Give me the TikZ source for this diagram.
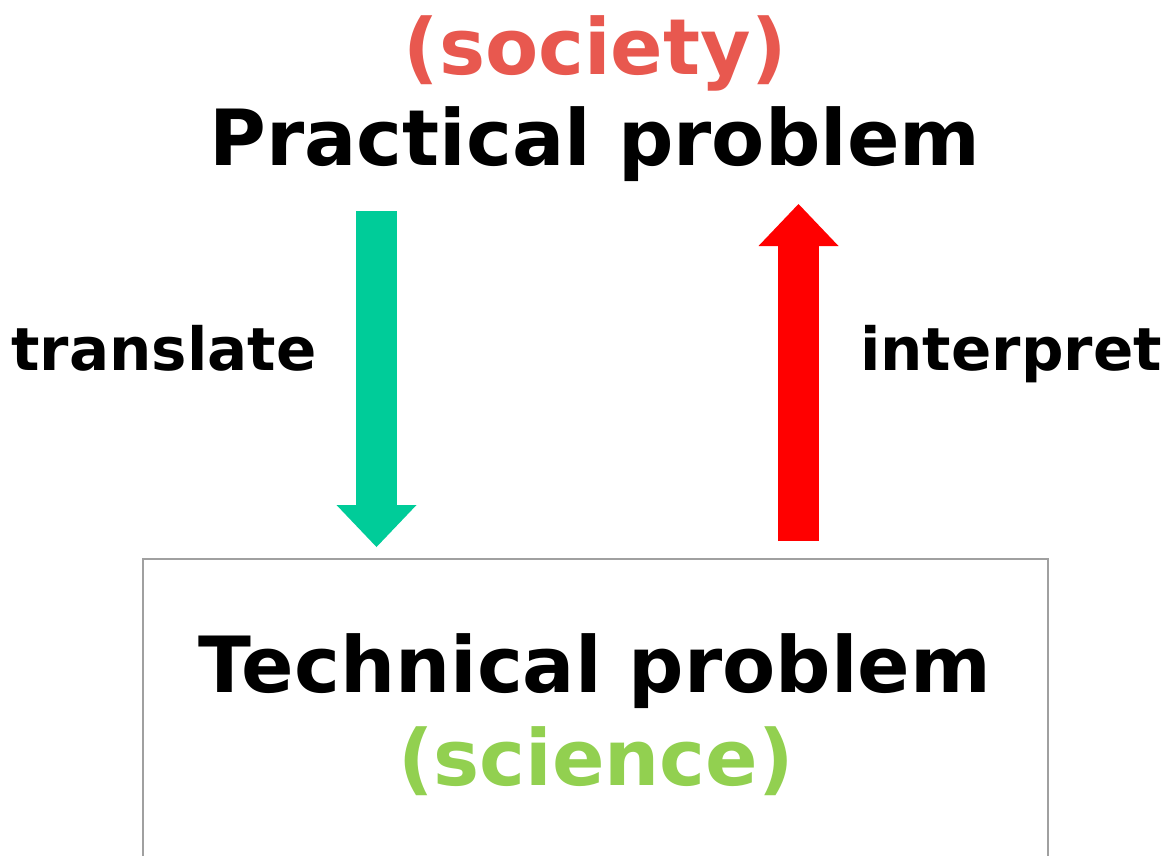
\documentclass[tikz,border=0pt]{standalone}
\usepackage{fontspec}
\setmainfont{DejaVu Sans}
\usetikzlibrary{arrows.meta}
\definecolor{societyred}{HTML}{E8584F}
\definecolor{sciencegreen}{HTML}{92D050}
\definecolor{arrowgreen}{HTML}{00CC99}
\definecolor{boxgrey}{HTML}{A0A0A0}
\tikzset{
  bigtext/.style={anchor=base, inner sep=0pt, font=\fontsize{77.5}{80}\selectfont\bfseries},
  smalltext/.style={anchor=base, inner sep=0pt, font=\fontsize{59.5}{62}\selectfont\bfseries},
  blockarrow/.style={line width=41pt, -{Triangle[width=80pt,length=42pt,line width=0pt]}},
}
\begin{document}
\begin{tikzpicture}[x=1pt,y=-1pt]
\useasboundingbox (0,0) rectangle (1167,855);
\fill[white] (0,0) rectangle (1167,855);
% box
\draw[boxgrey, line width=2pt] (143,880) -- (143,559) -- (1048,559) -- (1048,880);
\coordinate (box) at (595.5,559);
% texts
\node[bigtext, text=societyred] (society) at (595,74) {(society)};
\node[bigtext] (practical) at (595,165) {Practical problem};
\node[bigtext] (technical) at (595,692) {Technical problem};
\node[bigtext, text=sciencegreen] (science) at (596,785) {(science)};
\node[smalltext] (translate) at (164,370) {translate};
\node[smalltext] (interpret) at (1011,370) {interpret};
% arrow endpoints
\coordinate (gtop) at (376.5,211);
\coordinate (gbot) at (376.5,547);
\coordinate (rbot) at (798.5,541);
\coordinate (rtop) at (798.5,204);
\draw[blockarrow, arrowgreen] (gtop) -- (gbot);
\draw[blockarrow, red] (rbot) -- (rtop);
\end{tikzpicture}
\end{document}
